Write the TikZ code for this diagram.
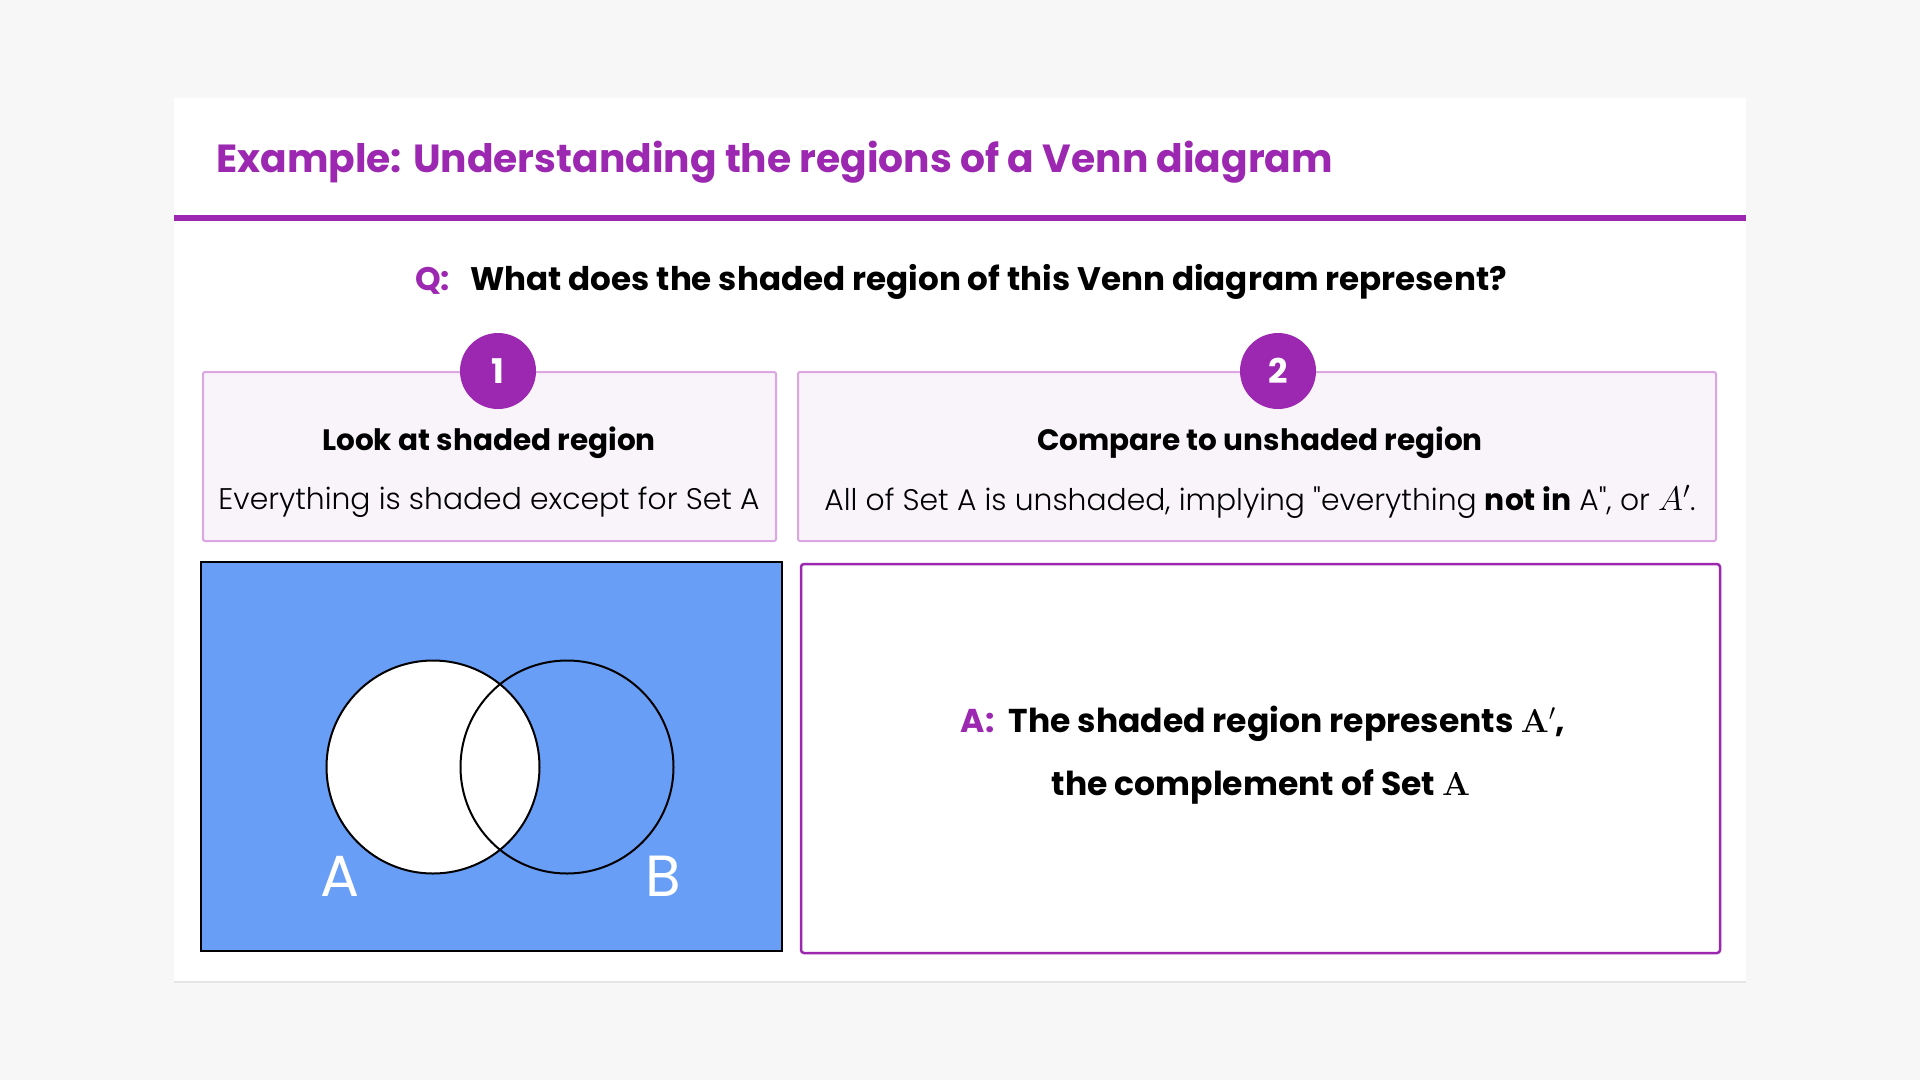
\RequirePackage{fix-cm}
\documentclass[tikz,border=0pt]{standalone}
\usepackage[no-math]{fontspec}
\setmainfont{Poppins}
\newfontfamily\poplight{Poppins Light}
\usepackage{amsmath}
\usetikzlibrary{positioning}
\definecolor{vpurple}{HTML}{9C27B0}
\definecolor{vblue}{HTML}{699EF7}
\definecolor{stepfill}{HTML}{F9F4FA}
\definecolor{stepline}{HTML}{DCA6E2}
\definecolor{pagegray}{HTML}{F7F7F7}
\tikzset{
	badge/.pic = {
			\node[circle, fill=vpurple, minimum size=76pt, inner sep=0pt,
				text=white, font=\fontsize{34}{34}\selectfont\bfseries] (-c) at (0,0) {#1};
			}
		}

\begin{document}
\begin{tikzpicture}
		[x=1pt, y=-1pt,
		every node/.style={inner sep=0pt},
		stepbox/.style = {draw=stepline, fill=stepfill, line width=2pt, rounded corners=2pt},
		head/.style = {font=\fontsize{29.5}{32}\selectfont\bfseries},
		body/.style = {font=\poplight\fontsize{29.8}{32}\selectfont},
		big/.style = {font=\fontsize{33}{36}\selectfont\bfseries},
		setlabel/.style = {text=white, font=\fontsize{58}{58}\selectfont}
		]
		% page and card
		\fill[pagegray] (0,0) rectangle (1920,1080);
		\fill[black!10] (174,99) rectangle (1746,983);
		\fill[white] (174,98) rectangle (1746,981);
		\node[anchor=base west, text=vpurple, font=\fontsize{39.2}{42}\selectfont\bfseries] (title) at (216,172) {Example: Understanding the regions of a Venn diagram};
		\fill[vpurple] (174,215) rectangle (1746,221);

		% question
		\node[big, font=\fontsize{32.6}{36}\selectfont\bfseries] (question) at (961,282) {{\color{vpurple}Q:}\hspace{20pt}What does the shaded region of this Venn diagram represent?};

		% step 1
		\node[stepbox, minimum width=573, minimum height=169] (box1) at (489.5,456.5) {};
		\pic (one) at (498,371) {badge=1};
		\node[head] (head1) at (489,443) {Look at shaded region};
		\node[body] (body1) at (489,502) {Everything is shaded except for Set A};

		% step 2
		\node[stepbox, minimum width=918, minimum height=169] (box2) at (1257,456.5) {};
		\pic (two) at (1278,371) {badge=2};
		\node[head] (head2) at (1260,443) {Compare to unshaded region};
		\node[body] (body2) at (1260,502) {All of Set A is unshaded, implying "everything {\normalfont\bfseries not in} A", or {\fontsize{34}{34}\selectfont$A'$}.};

		% venn diagram
		\node[draw=black, fill=vblue, line width=2pt, minimum width=581, minimum height=389] (venn) at (491.5,756.5) {};
		\node[circle, draw=black, fill=white, line width=2pt, minimum size=213] (setA) at (433,767) {};
		\node[circle, draw=black, line width=2pt, minimum size=213] (setB) at (567,767) {};
		\node[setlabel] (labA) at (340,876) {A};
		\node[setlabel] (labB) at (663,876) {B};

		% answer
		\node[draw=vpurple, line width=2.5pt, rounded corners=3pt, minimum width=919, minimum height=389] (ansbox) at (1260.5,758.5) {};
		\node[big] (ans1) at (1263,724) {{\color{vpurple}A:}\hspace{14pt}The shaded region represents $\mathbf{A}'$,};
		\node[big] (ans2) at (1261,787) {the complement of Set $\mathbf{A}$};
	\end{tikzpicture}
\end{document}
